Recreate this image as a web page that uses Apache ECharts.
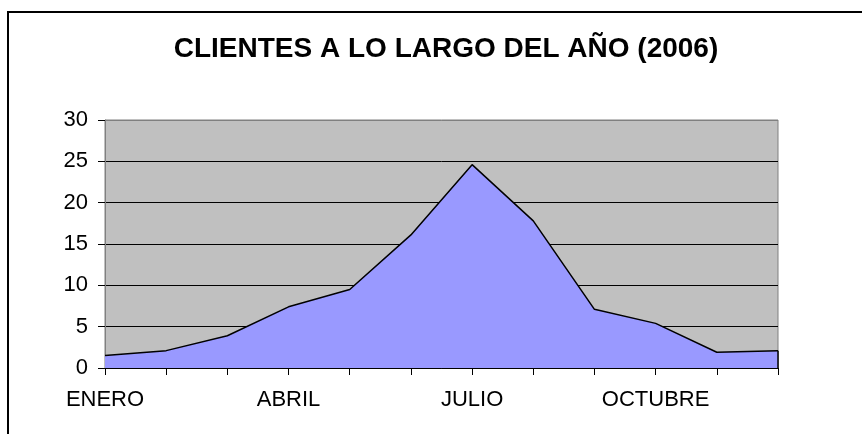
<!DOCTYPE html>
<html>
<head>
<meta charset="utf-8">
<script src="https://cdn.jsdelivr.net/npm/echarts@6/dist/echarts.min.js"></script>
<style>
html,body{margin:0;padding:0;background:#fff;}
#c{width:862px;height:434px;}
</style>
</head>
<body>
<div id="c"></div>
<script>
var titleText = 'CLIENTES A LO LARGO DEL AÑO (2006)';
var categories = ['ENERO','FEBRERO','MARZO','ABRIL','MAYO','JUNIO','JULIO','AGOSTO','SEPTIEMBRE','OCTUBRE','NOVIEMBRE','DICIEMBRE'];
var clientes = [1.5, 2.1, 3.9, 7.4, 9.5, 16.1, 24.6, 17.8, 7.1, 5.4, 1.9, 2.1];
var yMin = 0, yMax = 30, yStep = 5;

var last = categories.length - 1;
var chart = echarts.init(document.getElementById('c'), null, {renderer:'canvas'});
chart.setOption({
  animation: false,
  backgroundColor: '#ffffff',
  title: {
    text: titleText,
    left: 441, top: 30, textAlign: 'center',
    textStyle: {fontFamily: 'Liberation Sans, Arial, sans-serif', fontWeight: 'bold', fontSize: 28, color: '#000'}
  },
  graphic: [
    {type: 'line', shape: {x1: 7, y1: 12, x2: 862, y2: 12}, style: {stroke: '#000', lineWidth: 2}, z: 100},
    {type: 'line', shape: {x1: 8, y1: 11, x2: 8, y2: 434}, style: {stroke: '#000', lineWidth: 2}, z: 100}
  ],
  grid: {left: 105, right: 84, top: 120, bottom: 66, show: true, backgroundColor: '#C0C0C0', borderColor: '#808080', borderWidth: 1},
  xAxis: {
    type: 'category', data: categories, boundaryGap: false,
    axisLine: {lineStyle: {color: '#000', width: 1}},
    axisTick: {show: true, length: 7, interval: 0, lineStyle: {color: '#000'}},
    axisLabel: {interval: 2, margin: 21, fontFamily: 'Liberation Sans, Arial, sans-serif', fontSize: 22, color: '#000'},
    splitLine: {show: false}
  },
  yAxis: {
    type: 'value', min: yMin, max: yMax, interval: yStep,
    axisLine: {show: true, lineStyle: {color: '#808080', width: 1}},
    axisTick: {show: true, length: 7, inside: false, lineStyle: {color: '#000'}},
    axisLabel: {margin: 17, fontFamily: 'Liberation Sans, Arial, sans-serif', fontSize: 22, color: '#000'},
    splitLine: {show: true, lineStyle: {color: ['#000','#000','#000','#000','#000','#000','#808080'], width: 1}}
  },
  series: [{
    type: 'line', data: clientes, showSymbol: false, symbol: 'none',
    lineStyle: {color: '#000', width: 1.5},
    areaStyle: {color: '#9999FF', opacity: 1},
    z: 3,
    markLine: {
      silent: true, symbol: ['none','none'], label: {show: false},
      lineStyle: {color: '#000', width: 1.5, type: 'solid'},
      data: [[{coord: [categories[last], 0]}, {coord: [categories[last], clientes[last]]}]]
    }
  }]
});
</script>
</body>
</html>
